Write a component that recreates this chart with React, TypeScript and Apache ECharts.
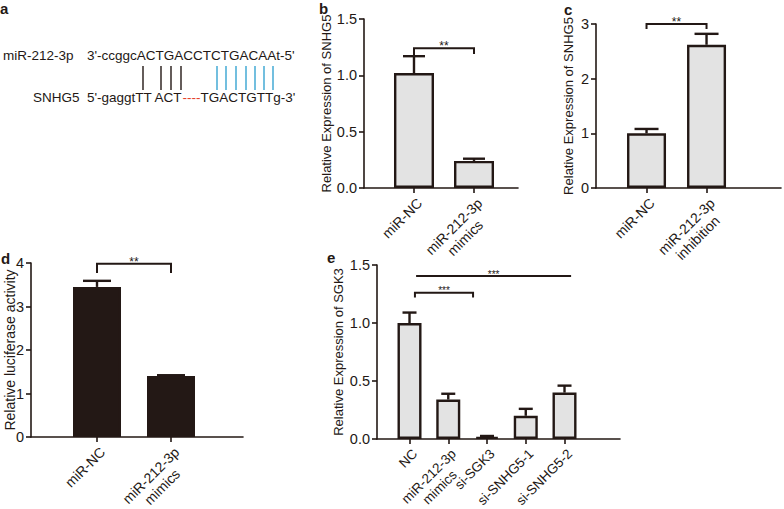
import React, { useEffect, useRef } from 'react';
import * as echarts from 'echarts';

// ---------- data ----------
const catsB = ['miR-NC', 'miR-212-3p\nmimics'];
const valsB = [1.02, 0.24];
const errB = [0.15, 0.02];
const ticksB = [0, 0.5, 1.0, 1.5];

const catsC = ['miR-NC', 'miR-212-3p\ninhibition'];
const valsC = [1.0, 2.62];
const errC = [0.08, 0.2];
const ticksC = [0, 1, 2, 3];

const catsD = ['miR-NC', 'miR-212-3p\nmimics'];
const valsD = [3.45, 1.4];
const errD = [0.14, 0.02];
const ticksD = [0, 1, 2, 3, 4];

const catsE = ['NC', 'miR-212-3p\nmimics', 'si-SGK3', 'si-SNHG5-1', 'si-SNHG5-2'];
const valsE = [1.0, 0.34, 0.02, 0.2, 0.4];
const errE = [0.09, 0.05, 0.006, 0.06, 0.06];
const ticksE = [0, 0.5, 1.0, 1.5];

// significance brackets: [from, to, top, leftLegEnd, rightLegEnd]
const sigB = [[0, 1, 1.24, 1.17, 1.19]];
const sigC = [[0, 1, 3.0, 2.91, 2.91]];
const sigD = [[0, 1, 3.98, 3.77, 3.77]];
const sigE = [[0.17, 4.17, 1.405, 1.405, 1.405], [0.14, 1.64, 1.26, 1.22, 1.22]];
const sigTextB = ['**'];
const sigTextC = ['**'];
const sigTextD = ['**'];
const sigTextE = ['***', '***'];

const seqMir = "3'-ccggcACTGACCTCTGACAAt-5'";
const seqSnhgA = "5'-gaggtTT ACT";
const seqSnhgGap = '----';
const seqSnhgB = "TGACTGTTg-3'";

// ---------- style ----------
const DARK = '#231815';
const FILL = '#e3e3e3';
const FONT = '"Liberation Sans", Arial, sans-serif';

let measureCtx: CanvasRenderingContext2D | null = null;
function textW(s: string, size: number) {
  if (!measureCtx) measureCtx = document.createElement('canvas').getContext('2d');
  if (!measureCtx) return s.length * size * 0.5;
  measureCtx.font = `${size}px ${FONT}`;
  return measureCtx.measureText(s).width;
}

function makeLabel(name: string, size: number) {
  const parts = name.split('\n');
  if (parts.length === 1) return { text: `{a|${name}}`, pad: 0 };
  const pad = Math.max(0, (textW(parts[0], size) - textW(parts[1], size)) / 2);
  return { text: `{a|${parts[0]}}\n{b|${parts[1]}}`, pad };
}

interface PanelCfg {
  idx: number;
  grid: { left: number; top: number; width: number; height: number };
  cats: string[];
  vals: number[];
  errs: number[];
  ticks: number[];
  decimals: number;
  xMin: number;
  xMax: number;
  barW: number;
  capW: number;
  fill: string;
  name: string;
  nameGap: number;
  nameSize: number;
  nameMove: boolean;
  sigs: number[][];
  sigTexts: string[];
  sigSize: number;
  labelSize: number;
}

function buildPanel(p: PanelCfg) {
  const labels = p.cats.map((c) => makeLabel(c, p.labelSize));
  const pads = labels.map((l) => l.pad);
  const lh = p.labelSize + 2;
  const xAxis = {
    gridIndex: p.idx,
    type: 'value',
    min: p.xMin,
    max: p.xMax,
    splitLine: { show: false },
    axisLine: { show: true, onZero: false, lineStyle: { color: DARK, width: 1.6 } },
    axisTick: {
      show: true,
      customValues: p.cats.map((_, i) => i),
      length: 5,
      lineStyle: { color: DARK, width: 1.6 },
    },
    axisLabel: {
      show: true,
      customValues: p.cats.map((_, i) => i),
      rotate: 45,
      margin: 7,
      verticalAlign: 'top',
      fontSize: p.labelSize,
      fontFamily: FONT,
      color: DARK,
      lineHeight: lh,
      formatter: (v: number) => {
        const i = Math.round(v);
        const l = labels[i];
        if (!l) return '';
        return l.text.replace('{b|', `{b${i}|`);
      },
      rich: Object.assign(
        { a: { fontSize: p.labelSize, fontFamily: FONT, color: DARK, lineHeight: lh } },
        ...pads.map((pd, i) => ({
          ['b' + i]: {
            fontSize: p.labelSize,
            fontFamily: FONT,
            color: DARK,
            lineHeight: lh,
            padding: [0, pd, 0, 0],
          },
        }))
      ),
    },
  };
  const yAxis: any = {
    gridIndex: p.idx,
    type: 'value',
    min: p.ticks[0],
    max: p.ticks[p.ticks.length - 1],
    interval: p.ticks[1] - p.ticks[0],
    splitLine: { show: false },
    axisLine: { show: true, onZero: false, lineStyle: { color: DARK, width: 1.6 } },
    axisTick: { show: true, length: 5, lineStyle: { color: DARK, width: 1.6 } },
    axisLabel: {
      fontSize: 14.5,
      fontFamily: FONT,
      color: DARK,
      margin: 7,
      formatter: (v: number) => v.toFixed(p.decimals),
    },
    name: p.name,
    nameLocation: 'middle',
    nameRotate: 90,
    nameGap: p.nameGap,
    nameTextStyle: { fontSize: p.nameSize, fontFamily: FONT, color: DARK },
  };
  if (!p.nameMove) yAxis.nameMoveOverlap = false;
  const series: any[] = [
    {
      type: 'bar',
      xAxisIndex: p.idx,
      yAxisIndex: p.idx,
      barWidth: p.barW,
      data: p.vals.map((v, i) => [i, v]),
      itemStyle: { color: p.fill, borderColor: DARK, borderWidth: 2.4 },
      z: 2,
    },
    {
      type: 'custom',
      xAxisIndex: p.idx,
      yAxisIndex: p.idx,
      data: p.vals.map((v, i) => [i, v, v + p.errs[i]]),
      encode: { x: 0, y: [1, 2] },
      z: 3,
      renderItem: (params: any, api: any) => {
        const x = api.value(0);
        const a = api.coord([x, api.value(1)]);
        const b = api.coord([x, api.value(2)]);
        return {
          type: 'group',
          children: [
            { type: 'line', shape: { x1: a[0], y1: a[1], x2: b[0], y2: b[1] }, style: { stroke: DARK, lineWidth: 2.4 } },
            {
              type: 'line',
              shape: { x1: b[0] - p.capW / 2, y1: b[1], x2: b[0] + p.capW / 2, y2: b[1] },
              style: { stroke: DARK, lineWidth: 2.4 },
            },
          ],
        };
      },
    },
    {
      type: 'custom',
      xAxisIndex: p.idx,
      yAxisIndex: p.idx,
      data: p.sigs,
      encode: { x: [0, 1], y: [2, 3, 4] },
      z: 4,
      clip: false,
      renderItem: (params: any, api: any) => {
        const x1 = api.value(0), x2 = api.value(1);
        const top = api.value(2), l1 = api.value(3), l2 = api.value(4);
        const pL = api.coord([x1, l1]);
        const pTL = api.coord([x1, top]);
        const pTR = api.coord([x2, top]);
        const pR = api.coord([x2, l2]);
        return {
          type: 'group',
          children: [
            {
              type: 'polyline',
              shape: { points: [pL, pTL, pTR, pR] },
              style: { stroke: DARK, lineWidth: 2, fill: 'none' },
            },
            {
              type: 'text',
              x: (pTL[0] + pTR[0]) / 2,
              y: pTL[1] - 2,
              style: {
                text: p.sigTexts[params.dataIndex],
                fontSize: p.sigSize,
                fontFamily: FONT,
                fill: DARK,
                textAlign: 'center',
                textVerticalAlign: 'middle',
              },
            },
          ],
        };
      },
    },
  ];
  return { grid: { ...p.grid, containLabel: false, outerBoundsMode: 'none' }, xAxis, yAxis, series };
}

const panels = [
  buildPanel({
    idx: 0,
    grid: { left: 364, top: 19, width: 154, height: 169 },
    cats: catsB, vals: valsB, errs: errB, ticks: ticksB, decimals: 1,
    xMin: -0.833, xMax: 1.733, barW: 40, capW: 22, fill: FILL,
    name: 'Relative Expression of SNHG5', nameGap: 31, nameSize: 13, nameMove: true,
    sigs: sigB, sigTexts: sigTextB, sigSize: 12, labelSize: 14,
  }),
  buildPanel({
    idx: 1,
    grid: { left: 596, top: 24, width: 185, height: 164 },
    cats: catsC, vals: valsC, errs: errC, ticks: ticksC, decimals: 0,
    xMin: -0.842, xMax: 2.241, barW: 39, capW: 24, fill: FILL,
    name: 'Relative Expression of SNHG5', nameGap: 21, nameSize: 13, nameMove: true,
    sigs: sigC, sigTexts: sigTextC, sigSize: 12, labelSize: 14,
  }),
  buildPanel({
    idx: 2,
    grid: { left: 31, top: 263, width: 212, height: 174 },
    cats: catsD, vals: valsD, errs: errD, ticks: ticksD, decimals: 0,
    xMin: -0.892, xMax: 1.973, barW: 48, capW: 28, fill: DARK,
    name: 'Relative luciferase activity', nameGap: 14, nameSize: 14, nameMove: false,
    sigs: sigD, sigTexts: sigTextD, sigSize: 12, labelSize: 14,
  }),
  buildPanel({
    idx: 3,
    grid: { left: 377, top: 265, width: 243, height: 174 },
    cats: catsE, vals: valsE, errs: errE, ticks: ticksE, decimals: 1,
    xMin: -0.839, xMax: 5.432, barW: 24, capW: 14, fill: FILL,
    name: 'Relative Expression of SGK3', nameGap: 32, nameSize: 13, nameMove: true,
    sigs: sigE, sigTexts: sigTextE, sigSize: 10, labelSize: 13.5,
  }),
];

function panelLetter(t: string, x: number, y: number) {
  return {
    type: 'text',
    x,
    y,
    style: { text: t, font: `bold 15px ${FONT}`, fill: DARK, textAlign: 'left', textVerticalAlign: 'middle' },
  };
}

const blackPairs = [143, 161, 171, 181];
const bluePairs = [217, 226, 236, 246, 255, 264, 273];

function seqGraphic() {
  const font = `13.5px ${FONT}`;
  const els: any[] = [
    { type: 'text', x: 3, y: 55, style: { text: 'miR-212-3p', font, fill: DARK, textVerticalAlign: 'middle' } },
    { type: 'text', x: 87, y: 55, style: { text: seqMir, font, fill: DARK, textVerticalAlign: 'middle' } },
    { type: 'text', x: 33, y: 97, style: { text: 'SNHG5', font, fill: DARK, textVerticalAlign: 'middle' } },
    {
      type: 'text',
      x: 87,
      y: 97,
      style: {
        text: `{k|${seqSnhgA}}{r|${seqSnhgGap}}{k|${seqSnhgB}}`,
        font,
        fill: DARK,
        textVerticalAlign: 'middle',
        rich: {
          k: { fontSize: 13.5, fontFamily: FONT, fill: DARK, color: DARK },
          r: { fontSize: 13.5, fontFamily: FONT, fill: '#e5412d', color: '#e5412d' },
        },
      },
    },
  ];
  blackPairs.forEach((x) =>
    els.push({ type: 'line', shape: { x1: x, y1: 66, x2: x, y2: 90 }, style: { stroke: '#231815', lineWidth: 1.4 } })
  );
  bluePairs.forEach((x) =>
    els.push({ type: 'line', shape: { x1: x, y1: 66, x2: x, y2: 90 }, style: { stroke: '#37a4d2', lineWidth: 1.4 } })
  );
  return els;
}

const option: any = {
  animation: false,
  backgroundColor: '#ffffff',
  grid: panels.map((p) => p.grid),
  xAxis: panels.map((p) => p.xAxis),
  yAxis: panels.map((p) => p.yAxis),
  series: panels.flatMap((p) => p.series),
  graphic: [
    panelLetter('a', 0, 8),
    panelLetter('b', 319, 8),
    panelLetter('c', 564, 9),
    panelLetter('d', 1, 258),
    panelLetter('e', 327, 257),
    ...seqGraphic(),
  ],
};

export default function App() {
  const ref = useRef<HTMLDivElement>(null);
  useEffect(() => {
    if (!ref.current) return;
    const chart = echarts.init(ref.current, null, { renderer: 'svg' });
    chart.setOption(option);
    return () => chart.dispose();
  }, []);
  return (
    <div
      ref={ref}
      style={{ position: 'fixed', left: 0, top: 0, width: 784, height: 509, background: '#fff' }}
    />
  );
}
